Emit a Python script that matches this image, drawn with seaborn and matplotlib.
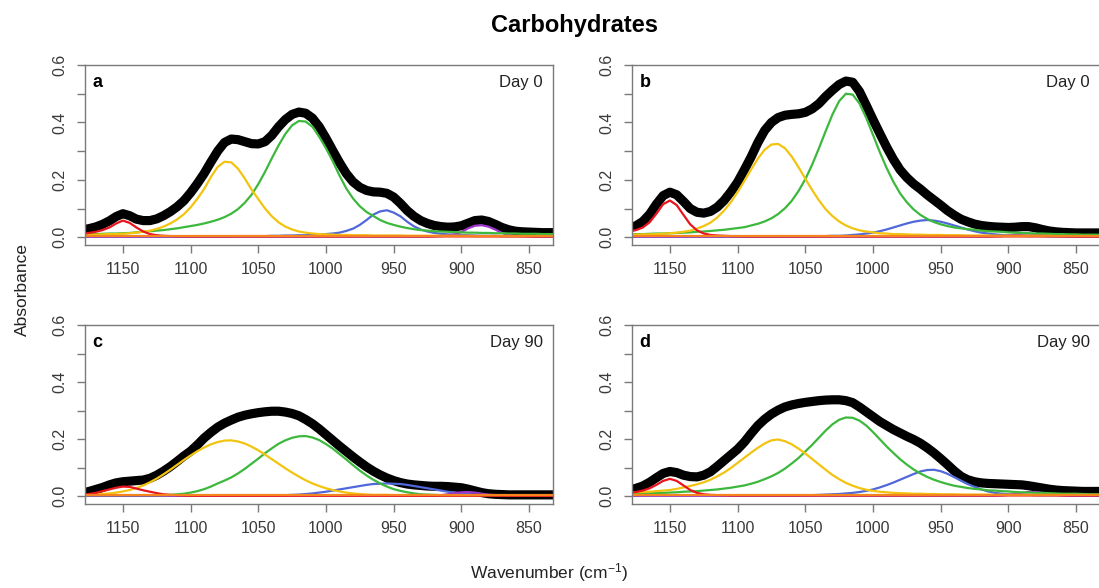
import matplotlib
matplotlib.use("Agg")
import matplotlib.pyplot as plt
import pandas as pd
import seaborn as sns

# ---------------- data ----------------
WN = [1180, 1175, 1170, 1165, 1160, 1155, 1150, 1145, 1140, 1135,
      1130, 1125, 1120, 1115, 1110, 1105, 1100, 1095, 1090, 1085,
      1080, 1075, 1070, 1065, 1060, 1055, 1050, 1045, 1040, 1035,
      1030, 1025, 1020, 1015, 1010, 1005, 1000, 995, 990, 985,
      980, 975, 970, 965, 960, 955, 950, 945, 940, 935,
      930, 925, 920, 915, 910, 905, 900, 895, 890, 885,
      880, 875, 870, 865, 860, 855, 850, 845, 840, 835,
      830]
ORANGE_WN = [1180, 830]

# panel a (Day 0)
A_TOTAL = [.026, .030, .036, .045, .057, .072, .082, .075, .063, .058,
           .058, .064, .075, .089, .106, .127, .155, .187, .222, .262,
           .300, .330, .342, .340, .333, .326, .325, .333, .355, .385,
           .410, .428, .436, .432, .415, .385, .345, .302, .260, .222,
           .193, .174, .163, .158, .157, .153, .140, .118, .093, .073,
           .058, .048, .041, .037, .035, .036, .040, .049, .058, .060,
           .055, .045, .034, .026, .021, .019, .018, .017, .016, .016,
           .016]
A_RED = [.012, .015, .019, .025, .034, .048, .058, .050, .034, .020,
         .011, .007, .005, .004, .004, .003, .003, .003, .003, .003,
         .003, .003, .003, .003, .003, .003, .003, .003, .003, .003,
         .003, .003, .003, .003, .003, .003, .003, .003, .003, .003,
         .003, .003, .003, .003, .003, .003, .003, .003, .003, .003,
         .003, .003, .003, .003, .003, .003, .003, .003, .003, .003,
         .003, .003, .003, .003, .003, .003, .003, .003, .003, .003,
         .003]
A_YELLOW = [.008, .009, .009, .010, .011, .011, .012, .014, .016, .019,
            .023, .029, .037, .048, .062, .080, .104, .134, .168, .210,
            .245, .263, .261, .239, .205, .166, .133, .100, .073, .052,
            .037, .027, .020, .016, .013, .011, .010, .009, .008, .008,
            .007, .007, .007, .006, .006, .006, .006, .006, .005, .005,
            .005, .005, .005, .005, .005, .005, .005, .005, .004, .004,
            .004, .004, .004, .004, .004, .004, .004, .004, .004, .004,
            .004]
A_GREEN = [.010, .011, .011, .012, .013, .013, .014, .015, .017, .019,
           .021, .023, .025, .028, .031, .035, .039, .043, .048, .054,
           .061, .070, .082, .098, .120, .148, .185, .228, .275, .320,
           .360, .390, .405, .403, .385, .350, .310, .265, .215, .170,
           .135, .108, .088, .074, .060, .050, .043, .037, .032, .028,
           .025, .023, .021, .020, .019, .018, .017, .016, .016, .015,
           .015, .014, .014, .013, .013, .012, .012, .012, .011, .011,
           .011]
A_BLUE = [.002, .002, .002, .002, .002, .002, .002, .002, .002, .002,
          .002, .002, .002, .002, .002, .002, .003, .003, .003, .003,
          .003, .003, .003, .004, .004, .004, .004, .004, .005, .005,
          .006, .006, .007, .007, .008, .009, .011, .013, .016, .022,
          .030, .043, .060, .079, .090, .094, .086, .073, .054, .038,
          .027, .020, .015, .012, .010, .009, .008, .007, .006, .005,
          .005, .005, .004, .004, .004, .004, .004, .003, .003, .003,
          .003]
A_PURPLE = [.002, .002, .002, .002, .002, .002, .002, .002, .002, .002,
            .002, .002, .002, .002, .002, .002, .002, .002, .002, .002,
            .002, .002, .002, .002, .002, .002, .002, .002, .002, .002,
            .002, .002, .002, .002, .002, .002, .002, .002, .002, .002,
            .002, .002, .002, .002, .002, .002, .002, .002, .002, .002,
            .002, .002, .003, .004, .006, .010, .018, .031, .040, .042,
            .037, .027, .015, .008, .005, .004, .003, .002, .002, .002,
            .002]
A_ORANGE = [.006, .006]

# panel b (Day 0)
B_TOTAL = [.033, .040, .055, .080, .115, .145, .157, .148, .125, .100,
           .087, .084, .090, .105, .128, .158, .192, .235, .280, .330,
           .372, .400, .417, .425, .428, .430, .435, .447, .465, .490,
           .512, .532, .544, .540, .508, .460, .410, .362, .315, .272,
           .235, .208, .186, .168, .148, .130, .112, .093, .077, .063,
           .054, .046, .041, .038, .036, .035, .034, .035, .037, .037,
           .033, .027, .022, .019, .017, .016, .015, .015, .015, .015,
           .015]
B_RED = [.020, .025, .034, .052, .082, .115, .128, .112, .078, .045,
         .024, .013, .008, .006, .005, .004, .004, .003, .003, .003,
         .003, .003, .003, .003, .003, .003, .003, .003, .003, .003,
         .003, .003, .003, .003, .003, .003, .003, .003, .003, .003,
         .003, .003, .003, .003, .003, .003, .003, .003, .003, .003,
         .003, .003, .003, .003, .003, .003, .003, .003, .003, .003,
         .003, .003, .003, .003, .003, .003, .003, .003, .003, .003,
         .003]
B_YELLOW = [.009, .009, .010, .010, .011, .012, .014, .016, .019, .023,
            .030, .039, .051, .069, .093, .122, .157, .196, .236, .274,
            .305, .323, .325, .310, .281, .244, .204, .165, .129, .098,
            .074, .055, .041, .031, .024, .020, .017, .014, .013, .011,
            .011, .010, .009, .009, .008, .008, .008, .007, .007, .007,
            .006, .006, .006, .006, .005, .005, .005, .005, .005, .005,
            .005, .005, .005, .004, .004, .004, .004, .004, .004, .004,
            .004]
B_GREEN = [.010, .011, .011, .012, .013, .013, .014, .015, .016, .017,
           .019, .020, .022, .024, .026, .029, .032, .035, .041, .047,
           .055, .066, .081, .101, .127, .161, .202, .252, .309, .369,
           .427, .474, .500, .497, .466, .416, .357, .297, .242, .194,
           .153, .122, .097, .078, .064, .053, .045, .039, .034, .031,
           .028, .026, .023, .021, .020, .019, .017, .016, .015, .014,
           .013, .013, .012, .011, .011, .010, .010, .009, .009, .009,
           .008]
B_BLUE = [.002, .002, .002, .002, .002, .002, .002, .002, .002, .002,
          .002, .002, .002, .002, .002, .002, .002, .002, .002, .002,
          .002, .002, .002, .003, .003, .003, .003, .003, .004, .004,
          .005, .005, .006, .008, .010, .013, .016, .021, .027, .034,
          .041, .048, .054, .058, .060, .058, .054, .048, .041, .034,
          .027, .021, .016, .013, .010, .008, .006, .005, .005, .004,
          .004, .004, .003, .003, .003, .003, .003, .003, .003, .003,
          .002]
B_PURPLE = [.002, .002, .002, .002, .002, .002, .002, .002, .002, .002,
            .002, .002, .002, .002, .002, .002, .002, .002, .002, .002,
            .002, .002, .002, .002, .002, .002, .002, .002, .002, .002,
            .002, .002, .002, .002, .002, .002, .002, .002, .002, .002,
            .002, .002, .002, .002, .002, .002, .002, .002, .002, .002,
            .002, .002, .002, .002, .003, .004, .006, .009, .012, .013,
            .011, .008, .005, .004, .003, .002, .002, .002, .002, .002,
            .002]
B_ORANGE = [.005, .005]

# panel c (Day 90)
C_TOTAL = [.012, .017, .024, .031, .040, .047, .051, .053, .055, .057,
           .063, .074, .088, .104, .122, .141, .158, .180, .204, .224,
           .242, .256, .267, .277, .284, .289, .293, .296, .298, .298,
           .295, .290, .282, .269, .254, .236, .216, .196, .176, .157,
           .138, .120, .103, .088, .075, .064, .055, .048, .043, .040,
           .038, .036, .035, .035, .034, .032, .030, .025, .019, .013,
           .009, .007, .006, .005, .005, .005, .005, .005, .005, .005,
           .005]
C_RED = [.005, .008, .012, .018, .024, .030, .034, .033, .027, .021,
         .016, .011, .007, .005, .004, .003, .002, .002, .002, .002,
         .002, .002, .002, .002, .002, .002, .002, .002, .002, .002,
         .002, .002, .002, .002, .002, .002, .002, .002, .002, .002,
         .002, .002, .002, .002, .002, .002, .002, .002, .002, .002,
         .002, .002, .002, .002, .002, .002, .002, .002, .002, .002,
         .002, .002, .002, .002, .002, .002, .002, .002, .002, .002,
         .002]
C_YELLOW = [.004, .005, .006, .008, .010, .013, .017, .022, .029, .038,
            .049, .062, .077, .093, .110, .127, .143, .158, .171, .182,
            .190, .195, .196, .192, .185, .174, .161, .146, .130, .114,
            .098, .083, .069, .056, .045, .036, .028, .022, .017, .013,
            .010, .008, .006, .005, .005, .005, .004, .004, .004, .004,
            .004, .004, .004, .004, .004, .004, .004, .003, .003, .003,
            .003, .003, .003, .003, .003, .003, .003, .003, .003, .003,
            .003]
C_GREEN = [.004, .004, .004, .004, .004, .004, .004, .004, .004, .004,
           .004, .004, .004, .005, .007, .009, .013, .018, .025, .034,
           .045, .055, .066, .080, .096, .114, .132, .151, .168, .184,
           .196, .205, .210, .211, .206, .197, .183, .167, .148, .129,
           .109, .090, .073, .058, .045, .034, .025, .019, .014, .010,
           .007, .006, .005, .004, .004, .004, .004, .004, .004, .004,
           .004, .004, .004, .004, .004, .004, .004, .004, .004, .004,
           .004]
C_BLUE = [.002, .002, .002, .002, .002, .002, .002, .002, .002, .002,
          .002, .002, .002, .002, .002, .002, .002, .002, .002, .002,
          .002, .002, .002, .002, .002, .002, .002, .002, .003, .003,
          .004, .005, .006, .008, .010, .013, .016, .020, .024, .028,
          .032, .036, .040, .043, .044, .045, .044, .043, .040, .036,
          .032, .028, .024, .020, .016, .013, .010, .008, .006, .005,
          .004, .003, .003, .003, .003, .003, .003, .003, .003, .003,
          .003]
C_PURPLE = [.002, .002, .002, .002, .002, .002, .002, .002, .002, .002,
            .002, .002, .002, .002, .002, .002, .002, .002, .002, .002,
            .002, .002, .002, .002, .002, .002, .002, .002, .002, .002,
            .002, .002, .002, .002, .002, .002, .002, .002, .002, .002,
            .002, .002, .002, .002, .002, .002, .002, .002, .002, .002,
            .002, .002, .002, .004, .007, .011, .014, .015, .013, .009,
            .006, .004, .003, .002, .002, .002, .002, .002, .002, .002,
            .002]
C_ORANGE = [.004, .004]

# panel d (Day 90)
D_TOTAL = [.022, .028, .036, .049, .065, .080, .087, .083, .074, .069,
           .068, .074, .086, .105, .125, .145, .165, .190, .220, .248,
           .270, .288, .302, .313, .320, .325, .329, .332, .335, .337,
           .338, .338, .335, .328, .313, .296, .279, .262, .248, .234,
           .222, .210, .199, .186, .170, .152, .132, .111, .089, .070,
           .058, .051, .047, .045, .044, .043, .042, .041, .040, .037,
           .033, .029, .025, .022, .020, .019, .018, .017, .017, .017,
           .017]
D_RED = [.012, .015, .020, .028, .040, .054, .061, .054, .038, .022,
         .012, .007, .005, .004, .004, .003, .003, .003, .003, .003,
         .003, .003, .003, .003, .003, .003, .003, .003, .003, .003,
         .003, .003, .003, .003, .003, .003, .003, .003, .003, .003,
         .003, .003, .003, .003, .003, .003, .003, .003, .003, .003,
         .003, .003, .003, .003, .003, .003, .003, .003, .003, .003,
         .003, .003, .003, .003, .003, .003, .003, .003, .003, .003,
         .003]
D_YELLOW = [.013, .014, .015, .016, .018, .020, .022, .026, .031, .036,
            .042, .049, .058, .070, .083, .099, .117, .135, .153, .170,
            .185, .196, .199, .193, .182, .167, .150, .131, .112, .093,
            .075, .060, .047, .037, .029, .023, .019, .016, .014, .012,
            .011, .010, .009, .009, .008, .008, .007, .007, .007, .006,
            .006, .006, .006, .006, .005, .005, .005, .005, .005, .005,
            .005, .005, .005, .005, .005, .005, .005, .005, .005, .005,
            .005]
D_GREEN = [.009, .010, .010, .011, .012, .012, .013, .014, .016, .017,
           .018, .020, .022, .024, .027, .030, .034, .038, .044, .051,
           .060, .070, .082, .097, .115, .134, .157, .180, .205, .230,
           .252, .268, .276, .275, .265, .248, .225, .200, .175, .152,
           .130, .111, .094, .080, .068, .058, .050, .043, .037, .033,
           .029, .026, .024, .021, .020, .018, .017, .015, .014, .013,
           .012, .012, .011, .010, .009, .009, .009, .008, .007, .007,
           .007]
D_BLUE = [.003, .003, .003, .003, .003, .003, .003, .003, .003, .003,
          .003, .003, .003, .003, .003, .003, .003, .003, .003, .003,
          .003, .003, .003, .003, .003, .003, .004, .004, .005, .006,
          .007, .008, .010, .012, .015, .019, .024, .031, .039, .048,
          .058, .068, .078, .087, .092, .093, .088, .079, .067, .055,
          .043, .033, .024, .017, .012, .009, .007, .006, .005, .005,
          .004, .004, .004, .004, .004, .003, .003, .003, .003, .003,
          .003]
D_PURPLE = [.002, .002, .002, .002, .002, .002, .002, .002, .002, .002,
            .002, .002, .002, .002, .002, .002, .002, .002, .002, .002,
            .002, .002, .002, .002, .002, .002, .002, .002, .002, .002,
            .002, .002, .002, .002, .002, .002, .002, .002, .002, .002,
            .002, .002, .002, .002, .002, .002, .002, .002, .002, .002,
            .002, .002, .002, .002, .002, .003, .005, .008, .012, .015,
            .015, .012, .008, .005, .003, .002, .002, .002, .002, .002,
            .002]
D_ORANGE = [.005, .005]

PANEL_LETTERS = ["a", "b", "c", "d"]
PANEL_DAYS = ["Day 0", "Day 0", "Day 90", "Day 90"]
X_TICKS = [1150, 1100, 1050, 1000, 950, 900, 850]
Y_TICKS = [0.0, 0.1, 0.2, 0.3, 0.4, 0.5, 0.6]
Y_TICK_LABELS = ["0.0", "", "0.2", "", "0.4", "", "0.6"]

COMPONENT_ORDER = ["blue", "purple", "green", "yellow", "red", "orange"]
PALETTE = {"blue": "#5068d8", "purple": "#9b35c9", "green": "#3cb83c",
           "yellow": "#f2c40f", "red": "#e8141c", "orange": "#f5841f"}

panels = [
    (A_TOTAL, {"blue": A_BLUE, "purple": A_PURPLE, "green": A_GREEN,
               "yellow": A_YELLOW, "red": A_RED}, A_ORANGE),
    (B_TOTAL, {"blue": B_BLUE, "purple": B_PURPLE, "green": B_GREEN,
               "yellow": B_YELLOW, "red": B_RED}, B_ORANGE),
    (C_TOTAL, {"blue": C_BLUE, "purple": C_PURPLE, "green": C_GREEN,
               "yellow": C_YELLOW, "red": C_RED}, C_ORANGE),
    (D_TOTAL, {"blue": D_BLUE, "purple": D_PURPLE, "green": D_GREEN,
               "yellow": D_YELLOW, "red": D_RED}, D_ORANGE),
]

# ---------------- figure ----------------
sns.set_theme(style="white")
plt.rcParams["font.family"] = ["Liberation Sans", "DejaVu Sans"]
plt.rcParams["mathtext.fontset"] = "custom"
plt.rcParams["mathtext.rm"] = "Liberation Sans"
plt.rcParams["mathtext.it"] = "Liberation Sans:italic"
plt.rcParams["mathtext.default"] = "regular"

W, H = 1099, 588
fig = plt.figure(figsize=(W / 100, H / 100), dpi=100)

# pixel boxes: (left, top, right, bottom)
boxes = [(85, 65, 553, 245), (632, 65, 1100, 245),
         (85, 325, 553, 504), (632, 325, 1100, 504)]

GRAY = "#7a7a7a"
for k, (total, comps, orange) in enumerate(panels):
    l, t, r, b = boxes[k]
    ax = fig.add_axes([l / W, 1 - b / H, (r - l) / W, (b - t) / H])

    assert len(total) == len(WN)
    tot_df = pd.DataFrame({"wn": WN, "absorbance": total})
    sns.lineplot(data=tot_df, x="wn", y="absorbance", color="black",
                 linewidth=6.6, estimator=None, sort=False, ax=ax,
                 solid_capstyle="round", solid_joinstyle="round")

    frames = []
    for name, vals in comps.items():
        assert len(vals) == len(WN), (k, name, len(vals))
        frames.append(pd.DataFrame({"wn": WN, "absorbance": vals, "comp": name}))
    frames.append(pd.DataFrame({"wn": ORANGE_WN, "absorbance": orange, "comp": "orange"}))
    comp_df = pd.concat(frames, ignore_index=True)
    sns.lineplot(data=comp_df, x="wn", y="absorbance", hue="comp",
                 hue_order=COMPONENT_ORDER, palette=PALETTE, linewidth=1.6,
                 estimator=None, sort=False, legend=False, ax=ax)

    ax.set_xlim(1178, 832.3)
    ax.set_ylim(-0.027, 0.6)
    ax.set_xticks(X_TICKS)
    ax.set_xticklabels([str(v) for v in X_TICKS])
    ax.set_yticks(Y_TICKS)
    ax.set_yticklabels(Y_TICK_LABELS, rotation=90, va="center")
    ax.set_xlabel("")
    ax.set_ylabel("")
    ax.grid(False)
    for sp in ax.spines.values():
        sp.set_visible(True)
        sp.set_color(GRAY)
        sp.set_linewidth(1.0)
    ax.tick_params(axis="both", direction="out", length=5.5, width=1.0,
                   color=GRAY, labelcolor="#3a3a3a", labelsize=11.5,
                   bottom=True, left=True)
    ax.tick_params(axis="x", pad=7)
    ax.tick_params(axis="y", pad=7)

    ax.text(0.016, 0.905, PANEL_LETTERS[k], transform=ax.transAxes,
            ha="left", va="center", fontsize=13, fontweight="bold",
            color="black")
    ax.text(0.978, 0.905, PANEL_DAYS[k], transform=ax.transAxes,
            ha="right", va="center", fontsize=12, color="#222222")

fig.text(0.523, 0.956, "Carbohydrates", ha="center", va="center",
         fontsize=17, fontweight="bold", color="black")
fig.text(0.020, 0.507, "Absorbance", ha="center", va="center",
         rotation=90, fontsize=12.5, color="#222222")
fig.text(0.4995, 0.027, "Wavenumber (cm$^{-1}$)", ha="center", va="center",
         fontsize=12.5, color="#222222")

fig.savefig("out.png", dpi=100)
